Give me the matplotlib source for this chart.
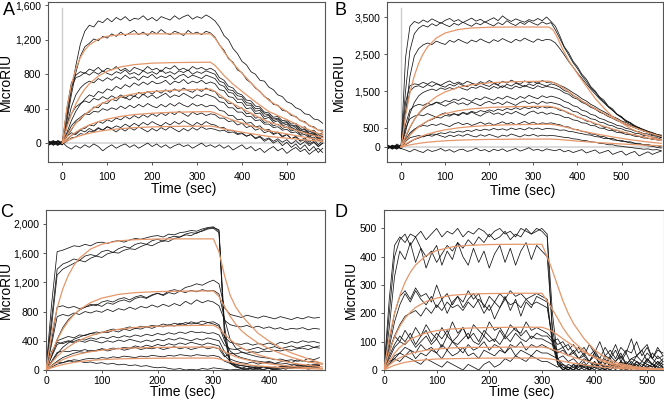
import numpy as np
import matplotlib.pyplot as plt
from matplotlib.ticker import FixedLocator, FixedFormatter

plt.rcParams['font.family'] = ['Liberation Sans', 'DejaVu Sans']

ORANGE = '#e4976a'

# ---------------- panel A ----------------
tA = np.arange(-30, 581, 10)
a1 = [15, -25, 30, 5,
      300, 620, 900, 1150, 1300, 1370, 1350, 1420, 1400, 1450, 1410, 1460, 1430, 1470, 1420, 1450, 1440, 1480, 1430, 1460, 1420, 1470, 1450, 1430, 1480, 1440, 1470, 1490, 1440, 1470, 1450, 1490, 1460,
      1420, 1350, 1250, 1200, 1100, 1040, 950, 910, 830, 800, 730, 720, 650, 620, 560, 540, 480, 460, 410, 390, 340, 330, 280, 270, 230]
a2 = [-20, 10, -15, 20,
      250, 560, 820, 1010, 1120, 1160, 1210, 1190, 1240, 1220, 1270, 1240, 1290, 1250, 1280, 1310, 1260, 1290, 1250, 1300, 1270, 1320, 1280, 1260, 1300, 1280, 1250, 1310, 1270, 1290, 1260, 1300, 1280,
      1230, 1140, 1080, 980, 940, 850, 820, 740, 700, 640, 600, 540, 510, 450, 440, 380, 370, 320, 310, 260, 250, 200, 190, 150, 150]
a3 = [5, 30, -10, 15,
      400, 700, 790, 830, 810, 860, 840, 880, 830, 870, 850, 890, 840, 870, 830, 880, 860, 840, 890, 850, 870, 830, 880, 860, 900, 850, 870, 840, 890, 860, 880, 850, 870,
      840, 760, 730, 660, 640, 580, 560, 500, 490, 430, 420, 360, 350, 300, 310, 260, 270, 220, 230, 170, 190, 130, 150, 100, 120]
a4 = [-10, 20, -25, 10,
      350, 650, 760, 780, 820, 790, 830, 800, 840, 810, 790, 830, 810, 850, 800, 820, 790, 840, 810, 830, 800, 850, 810, 830, 800, 840, 820, 850, 800, 830, 810, 840, 820,
      800, 720, 700, 620, 610, 550, 540, 470, 460, 400, 400, 340, 330, 280, 290, 240, 250, 200, 210, 150, 170, 110, 130, 80, 100]
a5 = [20, -15, 5, -20,
      200, 420, 560, 640, 690, 720, 700, 750, 720, 760, 730, 770, 740, 790, 750, 770, 730, 780, 760, 800, 750, 780, 760, 790, 740, 780, 800, 760, 790, 770, 750, 790, 770,
      750, 680, 660, 590, 580, 510, 510, 440, 440, 370, 380, 310, 320, 260, 280, 220, 240, 180, 200, 140, 160, 100, 120, 60, 80]
a6 = [-5, 15, -20, 5,
      120, 260, 370, 450, 510, 560, 540, 600, 580, 630, 610, 660, 630, 680, 650, 700, 670, 710, 680, 720, 690, 700, 730, 680, 720, 700, 740, 690, 720, 700, 730, 690, 710,
      690, 620, 610, 540, 530, 470, 470, 400, 410, 340, 350, 280, 300, 240, 260, 200, 220, 160, 180, 120, 140, 80, 110, 50, 70]
a7 = [10, -25, 20, 0,
      80, 150, 240, 270, 340, 360, 420, 410, 470, 460, 510, 490, 540, 520, 560, 540, 590, 560, 600, 570, 610, 580, 620, 590, 630, 600, 640, 610, 590, 630, 600, 640, 610,
      600, 530, 520, 460, 460, 400, 410, 340, 350, 290, 300, 240, 250, 200, 220, 170, 190, 140, 160, 100, 130, 70, 100, 40, 70]
a8 = [-20, 10, 25, -10,
      200, 340, 420, 460, 490, 470, 520, 500, 540, 510, 550, 520, 560, 530, 500, 550, 520, 570, 530, 560, 520, 550, 580, 530, 560, 540, 580, 550, 520, 560, 540, 570, 550,
      530, 480, 470, 410, 410, 360, 360, 310, 310, 260, 270, 220, 220, 180, 190, 150, 160, 120, 130, 90, 100, 60, 70, 30, 40]
a9 = [15, -10, -25, 20,
      100, 200, 260, 300, 340, 330, 370, 360, 400, 380, 410, 390, 430, 400, 440, 410, 450, 420, 460, 430, 410, 450, 420, 460, 430, 470, 440, 420, 460, 430, 450, 420, 440,
      430, 380, 370, 320, 320, 270, 280, 230, 240, 190, 200, 150, 160, 110, 130, 80, 100, 50, 70, 20, 40, -10, 20, -40, 0]
a10 = [-15, 20, 0, -20,
       40, 90, 110, 160, 170, 210, 200, 250, 230, 270, 250, 290, 270, 310, 280, 320, 290, 330, 300, 340, 310, 350, 320, 360, 330, 370, 340, 310, 360, 330, 350, 320, 340,
       330, 290, 290, 250, 260, 210, 230, 180, 200, 150, 170, 120, 140, 100, 120, 70, 100, 50, 80, 30, 60, 10, 50, -20, 30]
a11 = [25, -5, 15, -10,
       20, 60, 70, 110, 100, 140, 130, 170, 150, 190, 170, 200, 180, 220, 190, 230, 200, 240, 210, 250, 220, 200, 240, 210, 250, 220, 260, 230, 200, 240, 210, 250, 220,
       210, 180, 180, 140, 150, 110, 120, 80, 100, 50, 70, 20, 50, 0, 30, -30, 10, -50, -10, -70, -20, -90, -40, -110, -60]
a12 = [-25, 5, 20, -5,
       80, 120, 100, 150, 130, 170, 140, 180, 150, 190, 160, 130, 170, 140, 180, 150, 190, 160, 130, 170, 140, 180, 150, 190, 160, 130, 170, 140, 180, 150, 190, 160, 170,
       160, 140, 150, 120, 130, 100, 110, 80, 100, 60, 80, 40, 60, 20, 50, 10, 40, -10, 30, -20, 20, -30, 10, -40, 0]
a13 = [0, 20, -15, 10,
       -40, -70, -30, -60, -20, -50, -10, -40, -90, -50, -20, -60, -30, -10, -50, -20, -60, -30, 0, -40, -10, -50, -20, -60, -30, -10, -40, -20, -60, -30, 0, -40, -20,
       -50, -20, -60, -30, -80, -50, -20, -70, -40, -90, -60, -110, -70, -40, -90, -60, -120, -80, -50, -100, -70, -130, -90, -60, -110]

tA_fit = [0, 10, 20, 30, 40, 50, 60, 80, 100, 130, 160, 200, 250, 330,
          340, 350, 360, 380, 400, 430, 460, 500, 530, 560, 580]
fa1 = [0, 402, 675, 864, 993, 1082, 1140, 1209, 1242, 1261, 1268, 1270, 1270, 1270,
       1219, 1143, 1060, 927, 813, 648, 495, 368, 267, 178, 127]
fa2 = [0, 185, 334, 454, 550, 627, 689, 778, 836, 886, 912, 929, 936, 940,
       902, 846, 785, 686, 602, 479, 367, 273, 197, 132, 94]
fa3 = [0, 88, 163, 228, 284, 332, 374, 440, 489, 540, 573, 599, 615, 626,
       601, 563, 523, 457, 401, 319, 244, 182, 131, 88, 63]
fa4 = [0, 48, 90, 127, 159, 186, 210, 249, 279, 310, 331, 347, 359, 366,
       351, 329, 306, 267, 234, 187, 143, 106, 77, 51, 37]
fa5 = [0, 26, 49, 69, 86, 101, 114, 135, 151, 168, 179, 188, 194, 198,
       190, 178, 165, 145, 127, 101, 77, 57, 42, 28, 20]

# ---------------- panel B ----------------
tB = np.arange(-30, 591, 10)
b1 = [40, -60, 80, 20,
      2400, 3250, 3380, 3330, 3420, 3360, 3450, 3390, 3330, 3410, 3460, 3380, 3430, 3350, 3410, 3470, 3390, 3440, 3360, 3420, 3480, 3400, 3530, 3440, 3380, 3450, 3400, 3360, 3430, 3390, 3460, 3400, 3500, 3380,
      3250, 2990, 2700, 2540, 2310, 2160, 1960, 1830, 1630, 1510, 1350, 1260, 1100, 1020, 880, 820, 690, 660, 540, 520, 420, 410, 320, 320, 250]
b2 = [-50, 30, -20, 60,
      1500, 2600, 3050, 3200, 3280, 3230, 3320, 3260, 3350, 3290, 3240, 3330, 3280, 3360, 3300, 3250, 3340, 3290, 3370, 3310, 3260, 3350, 3290, 3400, 3320, 3270, 3360, 3300, 3390, 3330, 3280, 3370, 3310, 3350,
      3150, 2920, 2680, 2480, 2270, 2110, 1920, 1770, 1600, 1480, 1330, 1220, 1080, 990, 870, 790, 690, 640, 550, 510, 430, 400, 340, 320, 260]
b3 = [20, -40, 50, -10,
      900, 1900, 2450, 2650, 2750, 2800, 2760, 2850, 2800, 2760, 2870, 2820, 2900, 2840, 2790, 2880, 2830, 2910, 2850, 2800, 2890, 2840, 2920, 2860, 2810, 2900, 2850, 2930, 2870, 2820, 2910, 2860, 2900, 2880,
      2800, 2650, 2480, 2300, 2150, 1990, 1850, 1700, 1560, 1430, 1300, 1190, 1080, 980, 880, 800, 720, 650, 580, 520, 470, 420, 370, 330, 300]
b4 = [-30, 50, 10, -40,
      1200, 1650, 1700, 1680, 1740, 1690, 1760, 1710, 1660, 1730, 1780, 1700, 1750, 1690, 1770, 1720, 1680, 1760, 1710, 1790, 1730, 1680, 1770, 1720, 1800, 1740, 1690, 1780, 1730, 1760, 1710, 1790, 1740, 1750,
      1720, 1660, 1610, 1540, 1460, 1390, 1300, 1240, 1150, 1090, 1010, 950, 880, 820, 770, 700, 660, 600, 560, 500, 470, 420, 390, 340, 320]
b5 = [40, -20, -50, 30,
      900, 1500, 1620, 1650, 1600, 1680, 1630, 1700, 1650, 1610, 1690, 1640, 1710, 1660, 1620, 1700, 1650, 1720, 1670, 1630, 1710, 1660, 1600, 1690, 1640, 1720, 1670, 1620, 1700, 1650, 1730, 1680, 1640, 1700,
      1670, 1610, 1520, 1480, 1380, 1330, 1230, 1180, 1090, 1040, 950, 900, 830, 780, 710, 680, 610, 580, 520, 490, 430, 410, 360, 340, 290]
b6 = [-10, 30, -60, 20,
      400, 900, 1200, 1380, 1470, 1520, 1560, 1520, 1590, 1550, 1600, 1560, 1620, 1570, 1530, 1610, 1580, 1640, 1590, 1550, 1630, 1580, 1650, 1600, 1560, 1640, 1590, 1660, 1610, 1570, 1650, 1600, 1630, 1610,
      1580, 1540, 1460, 1420, 1330, 1290, 1200, 1150, 1070, 1020, 940, 890, 820, 770, 710, 660, 610, 560, 520, 470, 440, 390, 370, 320, 300]
b7 = [30, -40, 20, -20,
      250, 520, 740, 900, 1020, 1100, 1150, 1210, 1180, 1250, 1220, 1290, 1250, 1320, 1270, 1230, 1310, 1270, 1350, 1300, 1260, 1340, 1290, 1370, 1320, 1280, 1360, 1310, 1390, 1340, 1300, 1380, 1330, 1370,
      1340, 1300, 1230, 1190, 1110, 1080, 990, 960, 880, 850, 770, 740, 680, 640, 580, 560, 500, 480, 430, 410, 360, 350, 300, 290, 250]
b8 = [-40, 10, 40, -30,
      600, 1000, 1100, 1150, 1120, 1180, 1130, 1200, 1150, 1100, 1170, 1220, 1150, 1190, 1130, 1210, 1160, 1110, 1190, 1230, 1160, 1200, 1140, 1220, 1170, 1120, 1200, 1240, 1170, 1210, 1150, 1230, 1180, 1200,
      1170, 1140, 1070, 1040, 960, 940, 860, 830, 760, 740, 670, 650, 590, 570, 510, 490, 440, 420, 370, 360, 310, 300, 260, 250, 210]
b9 = [20, -30, 50, 0,
      150, 330, 460, 560, 620, 700, 740, 800, 780, 850, 830, 890, 870, 930, 900, 960, 920, 980, 950, 1000, 960, 1020, 980, 1040, 1000, 1060, 1010, 1070, 1030, 1080, 1040, 1090, 1050, 1070,
      1050, 990, 970, 900, 870, 800, 770, 700, 680, 610, 600, 530, 520, 460, 450, 390, 390, 340, 330, 280, 280, 230, 230, 190, 190]
b10 = [-20, 40, -40, 10,
       500, 760, 830, 870, 840, 900, 850, 800, 880, 920, 860, 900, 840, 920, 870, 940, 880, 830, 910, 950, 880, 920, 860, 940, 890, 960, 900, 850, 930, 970, 900, 940, 880, 920,
       880, 860, 800, 790, 730, 710, 650, 640, 580, 570, 510, 500, 450, 440, 390, 380, 340, 330, 290, 280, 240, 240, 200, 200, 170]
b11 = [50, -10, 20, -50,
       200, 380, 480, 540, 580, 560, 610, 580, 630, 590, 550, 620, 660, 600, 640, 580, 620, 670, 610, 650, 590, 630, 680, 620, 660, 600, 640, 690, 630, 670, 610, 650, 630, 650,
       620, 600, 550, 540, 480, 470, 420, 400, 350, 340, 290, 280, 230, 230, 180, 180, 140, 140, 100, 100, 60, 70, 30, 40, 0]
b12 = [-30, 20, -10, 40,
       60, 130, 200, 240, 290, 310, 350, 340, 380, 360, 410, 390, 430, 400, 450, 420, 470, 440, 480, 450, 500, 460, 490, 450, 510, 470, 500, 460, 520, 480, 510, 470, 500, 490,
       480, 450, 460, 420, 410, 380, 360, 330, 320, 280, 270, 230, 230, 190, 180, 150, 140, 110, 100, 70, 60, 30, 20, -10, -30]
b13 = [10, -50, 30, -20,
       150, 250, 280, 310, 270, 320, 290, 340, 300, 260, 320, 280, 330, 290, 350, 300, 270, 330, 290, 340, 300, 260, 320, 290, 350, 310, 270, 330, 300, 340, 290, 320, 300, 310,
       300, 280, 260, 250, 220, 210, 180, 170, 140, 130, 100, 90, 60, 60, 30, 20, 0, -10, -30, -40, -60, -50, -80, -70, -100]
b14 = [30, -20, 10, -40,
       -80, -130, -60, -110, -150, -70, -120, -90, -40, -110, -70, -140, -80, -60, -120, -90, -30, -100, -70, -130, -60, -100, -50, -120, -80, -40, -110, -70, -20, -90, -60, -110, -50, -80,
       -100, -60, -130, -90, -150, -110, -70, -160, -120, -80, -170, -130, -90, -200, -150, -110, -220, -160, -120, -240, -180, -130, -200, -150, -110]

tB_fit = [0, 10, 20, 30, 40, 50, 60, 80, 100, 130, 160, 200, 250, 335,
          345, 355, 365, 380, 400, 420, 440, 460, 480, 500, 520, 540, 560, 590]
fb1 = [0, 837, 1457, 1915, 2258, 2510, 2697, 2936, 3069, 3165, 3204, 3224, 3230, 3230,
       3150, 2930, 2670, 2330, 1970, 1640, 1310, 1050, 810, 650, 500, 390, 300, 190]
fb2 = [0, 293, 537, 741, 912, 1054, 1173, 1356, 1484, 1606, 1677, 1729, 1757, 1773,
       1738, 1684, 1614, 1489, 1312, 1170, 1028, 904, 780, 674, 567, 479, 390, 284]
fb3 = [0, 172, 317, 440, 542, 630, 703, 817, 899, 979, 1027, 1064, 1085, 1097,
       1075, 1042, 998, 921, 812, 724, 636, 559, 483, 417, 351, 296, 241, 176]
fb4 = [0, 79, 149, 209, 262, 307, 347, 413, 462, 516, 551, 580, 600, 614,
       602, 583, 559, 516, 454, 405, 356, 313, 270, 233, 196, 166, 135, 98]
fb5 = [0, 30, 56, 78, 97, 114, 128, 150, 167, 184, 195, 204, 210, 214,
       210, 203, 195, 180, 158, 141, 124, 109, 94, 81, 68, 58, 47, 34]

# ---------------- panel C ----------------
tC = np.arange(0, 491, 10)
c1 = [0, 900, 1620, 1640, 1670, 1700, 1690, 1720, 1700, 1740, 1750, 1730, 1760, 1770, 1750, 1780, 1800, 1790, 1810, 1830, 1840, 1820, 1860, 1850, 1880, 1890, 1910, 1900, 1930, 1950, 1960,
      1900, 450, 90, 40, 20, 50, 10, 30, 0, 40, 20, 50, 30, 60, 40, 70, 50, 80, 60]
c2 = [0, 700, 1380, 1450, 1480, 1520, 1500, 1560, 1580, 1560, 1620, 1640, 1610, 1660, 1690, 1670, 1720, 1740, 1720, 1770, 1790, 1760, 1810, 1830, 1820, 1860, 1880, 1870, 1910, 1940, 1950,
      1920, 600, 120, 60, 30, 10, 40, 20, 50, 30, 10, 40, 60, 30, 50, 20, 60, 40, 70]
c3 = [0, 600, 1300, 1380, 1420, 1460, 1500, 1480, 1530, 1560, 1540, 1590, 1610, 1600, 1640, 1660, 1650, 1690, 1720, 1700, 1740, 1770, 1760, 1800, 1820, 1850, 1840, 1880, 1900, 1930, 1940,
      1880, 500, 100, 50, 20, 0, 30, 10, 40, 20, 0, 30, 10, 50, 20, 40, 10, 30, 50]
c4 = [0, 400, 860, 880, 850, 870, 840, 860, 880, 900, 870, 920, 900, 940, 960, 930, 980, 1000, 980, 1020, 1050, 1030, 1080, 1100, 1080, 1130, 1150, 1180, 1160, 1200, 1230,
      1180, 850, 760, 740, 720, 750, 730, 710, 740, 720, 700, 730, 710, 690, 720, 700, 730, 710, 720]
c5 = [0, 200, 420, 580, 690, 760, 820, 860, 900, 880, 930, 950, 930, 970, 990, 960, 1000, 1020, 990, 1030, 1050, 1020, 1060, 1040, 1080, 1060, 1090, 1070, 1100, 1080, 1090,
      1040, 700, 420, 300, 250, 220, 200, 180, 170, 160, 140, 150, 130, 140, 120, 130, 110, 120, 100]
c6 = [0, 350, 730, 760, 740, 780, 760, 800, 780, 810, 790, 830, 800, 840, 820, 860, 830, 870, 850, 890, 860, 900, 870, 910, 880, 940, 900, 960, 920, 950, 930,
      880, 680, 620, 600, 590, 610, 580, 600, 570, 590, 560, 580, 550, 570, 560, 580, 550, 570, 560]
c7 = [0, 200, 400, 430, 460, 440, 480, 470, 500, 490, 520, 510, 540, 520, 560, 540, 570, 560, 590, 570, 600, 590, 620, 600, 640, 620, 660, 640, 670, 650, 660,
      620, 450, 380, 360, 350, 370, 340, 360, 350, 370, 340, 380, 360, 390, 370, 400, 380, 390, 370]
c8 = [0, 100, 220, 310, 370, 420, 450, 480, 500, 520, 510, 540, 560, 550, 570, 590, 570, 600, 590, 610, 600, 630, 610, 640, 620, 650, 630, 640, 620, 650, 630,
      600, 400, 260, 200, 170, 150, 130, 120, 110, 100, 90, 80, 90, 70, 80, 60, 70, 50, 60]
c9 = [0, 180, 350, 380, 400, 390, 420, 410, 440, 420, 450, 430, 460, 440, 470, 450, 480, 460, 490, 470, 500, 480, 510, 490, 520, 500, 530, 510, 520, 500, 510,
      480, 340, 290, 280, 300, 270, 290, 310, 280, 300, 320, 290, 310, 330, 300, 320, 340, 310, 330]
c10 = [0, 250, 380, 360, 390, 370, 400, 380, 410, 390, 370, 400, 380, 410, 390, 420, 400, 380, 410, 390, 420, 400, 430, 410, 440, 420, 400, 430, 410, 440, 420,
       400, 250, 150, 120, 100, 90, 110, 80, 100, 120, 90, 110, 130, 100, 140, 120, 160, 140, 170]
c11 = [0, 60, 120, 170, 200, 230, 250, 240, 270, 260, 290, 280, 300, 290, 310, 300, 330, 310, 340, 320, 350, 330, 360, 340, 370, 350, 380, 360, 340, 370, 350,
       330, 200, 120, 80, 60, 50, 40, 30, 50, 20, 40, 30, 50, 40, 60, 50, 70, 60, 80]
c12 = [0, 120, 240, 260, 250, 270, 260, 280, 250, 270, 290, 260, 280, 300, 270, 290, 310, 280, 300, 290, 310, 280, 300, 320, 290, 310, 280, 300, 320, 290, 310,
       290, 180, 230, 220, 240, 230, 250, 240, 260, 250, 270, 260, 280, 270, 290, 300, 280, 310, 300]
c13 = [0, 40, 80, 100, 120, 140, 130, 150, 160, 150, 170, 160, 180, 170, 190, 180, 170, 190, 180, 200, 190, 180, 200, 190, 210, 200, 190, 210, 200, 190, 200,
       180, 120, 90, 70, 60, 50, 60, 40, 50, 30, 40, 30, 50, 40, 60, 50, 40, 60, 50]
c14 = [0, 60, 110, 100, 130, 110, 120, 100, 110, 90, 100, 80, 90, 70, 80, 60, 70, 50, 60, 40, 30, 40, 20, 10, 20, 0, 10, 0, 20, 10, 30,
       20, 10, 0, 10, 0, 20, 10, 0, 10, 20, 0, 10, 30, 20, 40, 30, 20, 40, 30]

tC_fit = [0, 10, 20, 30, 40, 50, 60, 80, 100, 130, 160, 200, 250, 300,
          310, 320, 330, 340, 350, 360, 380, 400, 420, 440, 460, 480, 495]
fc1 = [0, 492, 849, 1108, 1296, 1433, 1531, 1656, 1722, 1767, 1784, 1793, 1795, 1795,
       1616, 1292, 1023, 862, 754, 664, 503, 395, 305, 233, 180, 126, 90]
fc2 = [0, 231, 412, 555, 668, 756, 826, 923, 984, 1035, 1059, 1073, 1080, 1082,
       1006, 866, 736, 628, 541, 476, 368, 292, 227, 173, 130, 97, 76]
fc3 = [0, 102, 186, 257, 316, 365, 407, 470, 514, 557, 582, 599, 609, 613,
       570, 490, 417, 356, 307, 270, 208, 166, 129, 98, 74, 55, 43]
fc4 = [0, 57, 104, 142, 174, 199, 220, 251, 272, 292, 302, 309, 313, 315,
       293, 252, 214, 183, 158, 139, 107, 85, 66, 50, 38, 28, 22]
fc5 = [0, 30, 54, 74, 90, 104, 115, 131, 142, 152, 157, 161, 163, 164,
       153, 131, 112, 95, 82, 72, 56, 44, 34, 26, 20, 15, 11]

# ---------------- panel D ----------------
tD = np.arange(0, 531, 10)
d1 = [0, 250, 440, 470, 450, 480, 470, 490, 460, 480, 500, 470, 490, 480, 500, 470, 490, 480, 500, 490, 470, 490, 500, 480, 490, 470, 500, 490, 480, 500, 490,
      470, 120, 20, 0, 10, 0, 20, 10, 0, 30, 10, 0, 20, 10, 30, 0, 20, 10, 30, 20, 10, 30, 20]
d2 = [0, 200, 400, 460, 480, 440, 470, 430, 400, 420, 380, 410, 440, 420, 450, 430, 460, 440, 470, 450, 480, 460, 470, 490, 460, 480, 470, 500, 480, 490, 500,
      480, 200, 40, 10, 0, 20, 0, 10, 30, 10, 0, 20, 40, 10, 30, 20, 0, 30, 10, 40, 20, 10, 30]
d3 = [0, 150, 330, 420, 390, 450, 380, 430, 360, 410, 440, 370, 420, 390, 450, 400, 370, 430, 380, 420, 360, 410, 440, 380, 430, 370, 420, 450, 390, 440, 420,
      400, 150, 30, 0, 20, 10, 0, 20, 10, 30, 0, 10, 20, 0, 30, 10, 20, 0, 10, 30, 20, 0, 20]
d4 = [0, 100, 200, 260, 280, 250, 290, 260, 270, 240, 300, 250, 270, 230, 260, 240, 280, 250, 270, 220, 260, 240, 270, 250, 280, 260, 270, 250, 260, 270, 260,
      250, 100, 30, 10, 0, 20, 10, 30, 0, 20, 10, 0, 30, 10, 20, 0, 10, 30, 20, 10, 0, 20, 10]
d5 = [0, 80, 170, 230, 270, 240, 280, 250, 230, 260, 220, 250, 200, 240, 260, 220, 250, 270, 240, 200, 230, 180, 220, 260, 210, 250, 190, 240, 220, 260, 250,
      240, 90, 20, 0, 10, 0, 20, 10, 0, 10, 30, 0, 10, 20, 0, 10, 30, 10, 0, 20, 10, 30, 10]
d6 = [0, 60, 120, 160, 190, 200, 210, 190, 220, 200, 230, 210, 240, 220, 230, 210, 240, 220, 250, 230, 210, 240, 220, 250, 230, 240, 220, 250, 230, 240, 230,
      220, 110, 40, 20, 10, 0, 10, 20, 0, 10, 20, 10, 0, 20, 10, 30, 10, 20, 0, 10, 20, 10, 0]
d7 = [0, 70, 120, 100, 140, 110, 150, 120, 160, 130, 110, 150, 120, 170, 130, 150, 110, 160, 140, 120, 170, 140, 150, 120, 160, 140, 130, 170, 140, 150, 140,
      130, 110, 90, 100, 70, 90, 60, 80, 50, 70, 40, 80, 50, 90, 40, 70, 60, 100, 50, 80, 40, 70, 60]
d8 = [0, 50, 90, 120, 100, 130, 90, 120, 140, 100, 130, 110, 140, 100, 120, 150, 110, 130, 100, 140, 120, 100, 140, 110, 130, 150, 120, 140, 110, 130, 120,
      120, 100, 110, 80, 90, 60, 80, 50, 90, 60, 100, 50, 70, 40, 80, 60, 110, 50, 70, 90, 40, 80, 50]
d9 = [0, 40, 80, 100, 90, 110, 80, 100, 120, 90, 110, 80, 120, 100, 90, 110, 130, 100, 90, 120, 100, 110, 90, 120, 100, 130, 110, 100, 120, 110, 110,
      100, 90, 70, 80, 50, 70, 40, 60, 30, 60, 20, 50, 40, 70, 30, 60, 20, 50, 70, 30, 60, 40, 50]
d10 = [0, 20, 50, 60, 80, 70, 60, 90, 70, 80, 60, 90, 70, 100, 80, 60, 90, 70, 80, 100, 70, 90, 80, 60, 90, 80, 100, 70, 90, 80, 90,
       80, 70, 60, 70, 50, 60, 40, 50, 30, 60, 40, 20, 50, 30, 60, 20, 40, 50, 30, 60, 40, 20, 40]
d11 = [0, 30, 40, 60, 50, 70, 40, 60, 50, 70, 60, 40, 70, 50, 60, 80, 50, 60, 40, 70, 60, 50, 70, 60, 80, 50, 70, 60, 50, 70, 60,
       60, 50, 40, 50, 30, 40, 20, 40, 30, 50, 20, 40, 10, 30, 50, 20, 40, 30, 10, 40, 20, 50, 30]
d12 = [0, 20, 40, 30, 50, 40, 30, 20, 40, 30, 20, 10, 30, 20, 10, 0, 20, 10, 0, 20, 30, 10, 20, 40, 30, 50, 40, 30, 50, 40, 30,
       30, 20, 10, 20, 0, 10, 20, 0, 10, 0, 20, 10, 0, 20, 10, 0, 10, 20, 0, 10, 20, 0, 10]

tD_fit = [0, 10, 20, 30, 40, 50, 60, 80, 100, 130, 160, 200, 250, 300,
          310, 320, 330, 340, 350, 360, 380, 400, 420, 440, 460, 480, 500, 530]
fd1 = [0, 115, 200, 263, 310, 345, 371, 404, 422, 435, 440, 443, 444, 444,
       400, 351, 297, 244, 200, 164, 111, 71, 44, 27, 18, 11, 7, 4]
fd2 = [0, 66, 116, 154, 183, 204, 221, 242, 254, 264, 268, 270, 271, 271,
       244, 214, 182, 149, 122, 100, 68, 43, 27, 16, 11, 7, 4, 2]
fd3 = [0, 33, 59, 80, 95, 108, 117, 131, 139, 145, 148, 150, 151, 151,
       145, 136, 124, 110, 97, 85, 63, 45, 32, 21, 14, 9, 6, 3]
fd4 = [0, 18, 32, 43, 51, 58, 63, 70, 74, 78, 80, 80, 81, 81,
       78, 73, 66, 59, 52, 45, 34, 24, 17, 11, 7, 5, 3, 2]
fd5 = [0, 9, 17, 22, 27, 30, 33, 36, 39, 40, 41, 42, 42, 42,
       40, 38, 34, 31, 27, 24, 18, 13, 9, 6, 4, 3, 2, 1]


W, H = 664, 403
fig = plt.figure(figsize=(W / 100, H / 100), dpi=100)


def box(l, r, t, b):
    return [l / W, 1 - b / H, (r - l) / W, (b - t) / H]


panels = [
    dict(rect=box(48, 325, 2, 162), t=tA, traces=[a1, a2, a3, a4, a5, a6, a7, a8, a9, a10, a11, a12, a13],
         tf=tA_fit, fits=[fa1, fa2, fa3, fa4, fa5], xlim=(-32, 585), ylim=(-220, 1640),
         yt=[0, 400, 800, 1200, 1600], ytl=['0', '400', '800', '1,200', '1,600'],
         xt=[0, 100, 200, 300, 400, 500], letter='A', lpos=(3, 2), inj=1565,
         ylab=-0.125, xlab=-0.125, xpad=5),
    dict(rect=box(387, 663, 2, 162), t=tB, traces=[b1, b2, b3, b4, b5, b6, b7, b8, b9, b10, b11, b12, b13, b14],
         tf=tB_fit, fits=[fb1, fb2, fb3, fb4, fb5], xlim=(-32, 594), ylim=(-404, 3904),
         yt=[0, 500, 1500, 2500, 3500], ytl=['0', '500', '1,500', '2,500', '3,500'],
         xt=[0, 100, 200, 300, 400, 500], letter='B', lpos=(334, 2), inj=3740,
         ylab=-0.15, xlab=-0.14, xpad=5),
    dict(rect=box(46, 325, 210, 370), t=tC, traces=[c1, c2, c3, c4, c5, c6, c7, c8, c9, c10, c11, c12, c13, c14],
         tf=tC_fit, fits=[fc1, fc2, fc3, fc4, fc5], xlim=(0, 500), ylim=(0, 2190),
         yt=[0, 400, 800, 1200, 1600, 2000], ytl=['0', '400', '800', '1,200', '1,600', '2,000'],
         xt=[0, 100, 200, 300, 400], letter='C', lpos=(0, 204), inj=None,
         ylab=-0.118, xlab=-0.094, xpad=1.5),
    dict(rect=box(384, 664, 210, 370), t=tD, traces=[d1, d2, d3, d4, d5, d6, d7, d8, d9, d10, d11, d12],
         tf=tD_fit, fits=[fd1, fd2, fd3, fd4, fd5], xlim=(0, 532), ylim=(0, 565),
         yt=[0, 100, 200, 300, 400, 500], ytl=['0', '100', '200', '300', '400', '500'],
         xt=[0, 100, 200, 300, 400, 500], letter='D', lpos=(334, 204), inj=None,
         ylab=-0.093, xlab=-0.094, xpad=1.5),
]

for p in panels:
    ax = fig.add_axes(p['rect'])
    if p['inj'] is not None:
        ax.axhline(0, color='#d4d4d4', lw=1.2, zorder=1)
        ax.plot([0, 0], [0, p['inj']], color='#cccccc', lw=1.0, zorder=1)
    for tr in p['traces']:
        ax.plot(p['t'], tr, color='#111111', lw=0.55, zorder=2)
    for f in p['fits']:
        ax.plot(p['tf'], f, color=ORANGE, lw=0.9, zorder=3)
    ax.set_xlim(*p['xlim'])
    ax.set_ylim(*p['ylim'])
    ax.yaxis.set_major_locator(FixedLocator(p['yt']))
    ax.yaxis.set_major_formatter(FixedFormatter(p['ytl']))
    ax.xaxis.set_major_locator(FixedLocator(p['xt']))
    ax.tick_params(axis='both', labelsize=7.5, length=2.5, width=0.7, color='#555555', direction='out')
    ax.tick_params(axis='x', pad=p['xpad'])
    ax.tick_params(axis='y', pad=2.5)
    for s in ax.spines.values():
        s.set_color('#555555')
        s.set_linewidth(0.8)
    ax.set_ylabel('MicroRIU', fontsize=10)
    ax.set_xlabel('Time (sec)', fontsize=10, va='top')
    ax.yaxis.set_label_coords(p['ylab'], 0.5)
    ax.xaxis.set_label_coords(0.49, p['xlab'])
    fig.text(p['lpos'][0] / W, 1 - p['lpos'][1] / H, p['letter'], fontsize=13, ha='left', va='top')

fig.savefig('out.png', dpi=100)
